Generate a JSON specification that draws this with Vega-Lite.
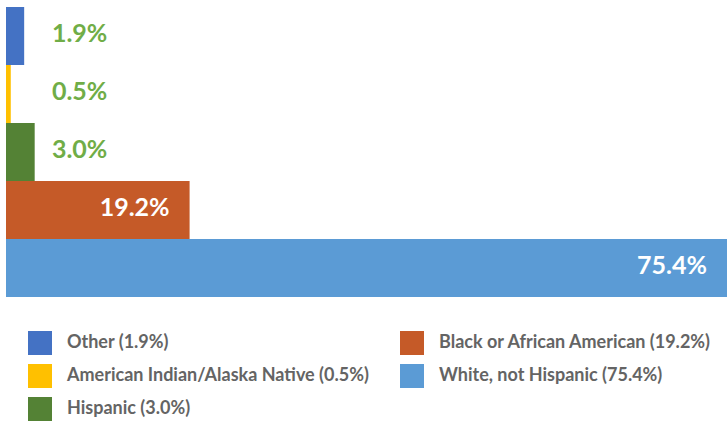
{
  "$schema": "https://vega.github.io/schema/vega-lite/v6.json",
  "width": 721,
  "height": 290,
  "autosize": {"type": "none"},
  "padding": {"left": 6, "top": 7, "right": 0, "bottom": 124},
  "config": {"view": {"stroke": null}, "font": "Lato"},
  "data": {
    "values": [
      {"group": "Other", "value": 1.9, "label": "Other (1.9%)", "text": "1.9%", "inside": false},
      {"group": "American Indian/Alaska Native", "value": 0.5, "label": "American Indian/Alaska Native (0.5%)", "text": "0.5%", "inside": false},
      {"group": "Hispanic", "value": 3.0, "label": "Hispanic (3.0%)", "text": "3.0%", "inside": false},
      {"group": "Black or African American", "value": 19.2, "label": "Black or African American (19.2%)", "text": "19.2%", "inside": true},
      {"group": "White, not Hispanic", "value": 75.4, "label": "White, not Hispanic (75.4%)", "text": "75.4%", "inside": true}
    ]
  },
  "encoding": {
    "y": {
      "field": "group",
      "type": "nominal",
      "sort": ["Other", "American Indian/Alaska Native", "Hispanic", "Black or African American", "White, not Hispanic"],
      "axis": null,
      "scale": {"paddingInner": 0, "paddingOuter": 0}
    }
  },
  "layer": [
    {
      "mark": {"type": "bar"},
      "encoding": {
        "x": {"field": "value", "type": "quantitative", "axis": null, "scale": {"domain": [0, 75.4], "nice": false}},
        "color": {
          "field": "label",
          "type": "nominal",
          "scale": {
            "domain": ["Other (1.9%)", "American Indian/Alaska Native (0.5%)", "Hispanic (3.0%)", "Black or African American (19.2%)", "White, not Hispanic (75.4%)"],
            "range": ["#4472C4", "#FFC000", "#548235", "#C55A28", "#5B9BD5"]
          },
          "legend": {
            "orient": "none",
            "legendX": 22,
            "legendY": 324,
            "columns": 2,
            "title": null,
            "symbolType": "square",
            "symbolSize": 576,
            "symbolStrokeWidth": 0,
            "symbolOpacity": 1,
            "labelFontSize": 18,
            "labelFontWeight": "bold",
            "labelColor": "#646464",
            "labelOffset": 15,
            "rowPadding": 9,
            "columnPadding": 31,
            "labelLimit": 400
          }
        }
      }
    },
    {
      "transform": [{"filter": "!datum.inside"}],
      "mark": {"type": "text", "align": "left", "baseline": "middle", "fontSize": 25, "fontWeight": "bold", "color": "#70AD47", "dy": -2},
      "encoding": {
        "x": {"datum": 4.8, "type": "quantitative"},
        "text": {"field": "text"}
      }
    },
    {
      "transform": [{"filter": "datum.inside"}],
      "mark": {"type": "text", "align": "right", "baseline": "middle", "dx": -20, "fontSize": 25, "fontWeight": "bold", "color": "white", "dy": -2},
      "encoding": {
        "x": {"field": "value", "type": "quantitative"},
        "text": {"field": "text"}
      }
    }
  ]
}
